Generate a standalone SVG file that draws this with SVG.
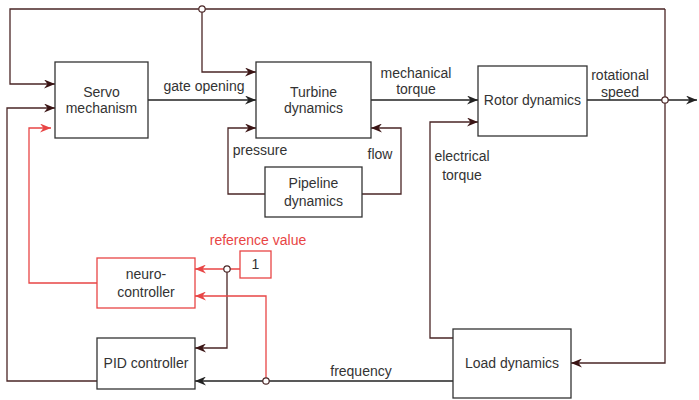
<svg xmlns="http://www.w3.org/2000/svg" width="699" height="400" viewBox="0 0 699 400">
<style>
.box{fill:#fff;stroke:#333;stroke-width:1.3}
.rbox{fill:#fff;stroke:#e84545;stroke-width:1.3}
.t{font-family:"Liberation Sans",Arial,sans-serif;font-size:14px;fill:#333;text-anchor:middle}
.rt{font-family:"Liberation Sans",Arial,sans-serif;font-size:14px;fill:#e84545;text-anchor:middle}
.c{fill:none;stroke:#222;stroke-width:1.3}
.cb{fill:none;stroke:#4a2626;stroke-width:1.3}
.cr{fill:none;stroke:#e84545;stroke-width:1.3}
.dot{fill:#fff;stroke:#4a2626;stroke-width:1.2}
</style>
<defs>
<marker id="a" markerWidth="11" markerHeight="9" refX="11" refY="4.5" orient="auto" markerUnits="userSpaceOnUse"><path d="M0,0 L11,4.5 L0,9 L3.5,4.5 z" fill="#222"/></marker>
<marker id="ab" markerWidth="11" markerHeight="9" refX="11" refY="4.5" orient="auto" markerUnits="userSpaceOnUse"><path d="M0,0 L11,4.5 L0,9 L3.5,4.5 z" fill="#3a1414"/></marker>
<marker id="ar" markerWidth="11" markerHeight="9" refX="11" refY="4.5" orient="auto" markerUnits="userSpaceOnUse"><path d="M0,0 L11,4.5 L0,9 L3.5,4.5 z" fill="#e84545"/></marker>
</defs>
<rect width="699" height="400" fill="#fff"/>
<g id="connectors">
<path class="cb" d="M665,9 H10 V84 H55" marker-end="url(#ab)"/>
<path class="cb" d="M202,9 V72 H256" marker-end="url(#ab)"/>
<path class="cb" d="M665,9 V363 H571" marker-end="url(#ab)"/>
<path class="c" d="M148,100 H256" marker-end="url(#a)"/>
<path class="c" d="M371,100 H478" marker-end="url(#a)"/>
<path class="c" d="M587,100 H697" marker-end="url(#a)"/>
<path class="cb" d="M265,194 H228 V128 H256" marker-end="url(#ab)"/>
<path class="cb" d="M362,194 H401 V128 H371" marker-end="url(#ab)"/>
<path class="cb" d="M453,338 H430 V122 H478" marker-end="url(#ab)"/>
<path class="cb" d="M97,381 H7 V108 H55" marker-end="url(#ab)"/>
<path class="cr" d="M97,283 H29 V128 H51" marker-end="url(#ar)"/>
<path class="cr" d="M240,269 H195" marker-end="url(#ar)"/>
<path class="cb" d="M227,269 V348 H195" marker-end="url(#ab)"/>
<path class="c" d="M453,381 H195" marker-end="url(#a)"/>
<path class="cr" d="M266,381 V296 H195" marker-end="url(#ar)"/>
<circle class="dot" cx="202" cy="9" r="3.2"/>
<circle class="dot" cx="665" cy="100" r="3.2"/>
<circle class="dot" cx="227" cy="269" r="3.2"/>
<circle class="dot" cx="266" cy="381" r="3.2"/>
<text class="t" x="204" y="91">gate opening</text>
<text class="t" x="416" y="78">mechanical</text>
<text class="t" x="416" y="94">torque</text>
<text class="t" x="620" y="80">rotational</text>
<text class="t" x="620" y="97">speed</text>
<text class="t" x="260" y="155">pressure</text>
<text class="t" x="380" y="159">flow</text>
<text class="t" x="462" y="161">electrical</text>
<text class="t" x="462" y="180">torque</text>
<text class="t" x="361" y="376">frequency</text>
<text class="rt" x="258" y="245">reference value</text>
</g>
<g id="servo"><rect class="box" x="55" y="62" width="93" height="76"/><text class="t" x="101.5" y="97">Servo</text><text class="t" x="101.5" y="113">mechanism</text></g>
<g id="turbine"><rect class="box" x="256" y="62" width="115" height="76"/><text class="t" x="313.5" y="97">Turbine</text><text class="t" x="313.5" y="113">dynamics</text></g>
<g id="pipeline"><rect class="box" x="265" y="167" width="97" height="50"/><text class="t" x="313.5" y="188">Pipeline</text><text class="t" x="313.5" y="206">dynamics</text></g>
<g id="rotor"><rect class="box" x="478" y="66" width="109" height="70"/><text class="t" x="532.5" y="105">Rotor dynamics</text></g>
<g id="load"><rect class="box" x="453" y="329" width="118" height="69"/><text class="t" x="512" y="368">Load dynamics</text></g>
<g id="neuro"><rect class="rbox" x="97" y="258" width="98" height="50"/><text class="t" x="146" y="279">neuro-</text><text class="t" x="146" y="297">controller</text></g>
<g id="pid"><rect class="box" x="97" y="338" width="98" height="51"/><text class="t" x="146" y="368">PID controller</text></g>
<g id="ref"><rect class="rbox" x="240" y="251" width="31" height="27"/><text class="t" x="255.5" y="269">1</text></g>
</svg>
